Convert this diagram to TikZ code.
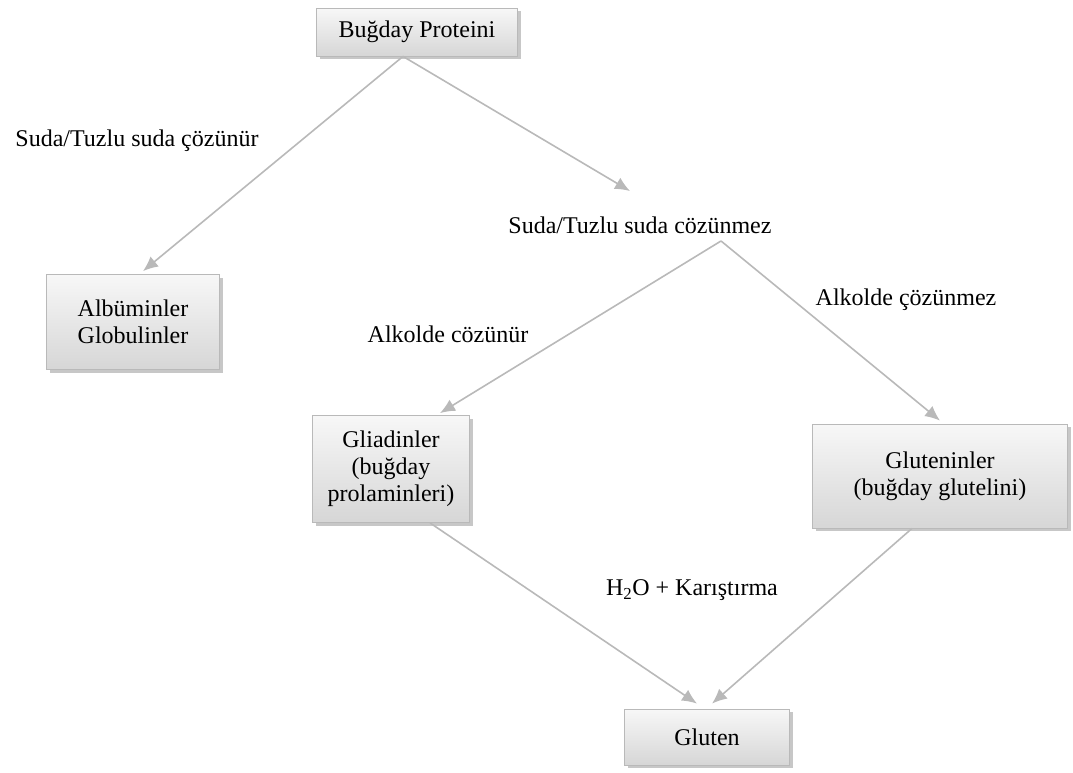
\documentclass[tikz,border=0pt]{standalone}
\usepackage{fontspec}
\setmainfont{Liberation Serif}
\usetikzlibrary{positioning, shadows, arrows.meta}

\begin{document}
\begin{tikzpicture}[x=1pt, y=-1pt]
\tikzstyle{main}=[rectangle, align=center, draw=gray!55, line width=0.8pt, top color=gray!6, bottom color=gray!32, drop shadow={shadow xshift=3pt, shadow yshift=-3pt, fill=gray!55, opacity=0.8}, font=\fontsize{24}{27}\selectfont]
\tikzstyle{lbl}=[align=center, font=\fontsize{24}{27}\selectfont]
\tikzstyle{connect}=[draw, -{Latex[length=15pt, width=13pt]}, line width=1.6pt, draw=gray!55, fill=gray!55]
\useasboundingbox (0,0) rectangle (1073,772);
\node[main, minimum width=201pt, minimum height=48pt] (prot) at (417,32) {Buğday Proteini};
\node[main, minimum width=173pt, minimum height=95pt] (alb) at (133,322) {Albüminler\\Globulinler};
\node[main, minimum width=157pt, minimum height=107pt] (glia) at (391,469) {Gliadinler\\(buğday\\prolaminleri)};
\node[main, minimum width=255pt, minimum height=104pt] (glut) at (940,476) {Gluteninler\\(buğday glutelini)};
\node[main, minimum width=165pt, minimum height=56pt] (gluten) at (707,737) {Gluten};
\node[lbl] (sol) at (137,141) {Suda/Tuzlu suda çözünür};
\node[lbl] (insol) at (640,225) {Suda/Tuzlu suda cözünmez};
\node[lbl] (alk1) at (448,334) {Alkolde cözünür};
\node[lbl] (alk2) at (906,300) {Alkolde çözünmez};
\node[lbl] (mix) at (692,590) {H\textsubscript{2}O + Karıştırma};
\path
    ([xshift=-14pt]prot.south) edge [connect] ([xshift=10pt, yshift=3pt]alb.north)
    ([xshift=-14pt]prot.south) edge [connect] ([xshift=-10pt, yshift=22pt]insol.north)
    ([xshift=81pt, yshift=-4pt]insol.south) edge [connect] ([xshift=49pt, yshift=2pt]glia.north)
    ([xshift=81pt, yshift=-4pt]insol.south) edge [connect] ([yshift=3pt]glut.north)
    ([xshift=39pt]glia.south) edge [connect] ([xshift=-10pt, yshift=5pt]gluten.north)
    ([xshift=-28pt]glut.south) edge [connect] ([xshift=5pt, yshift=5pt]gluten.north)
;
\end{tikzpicture}
\end{document}
